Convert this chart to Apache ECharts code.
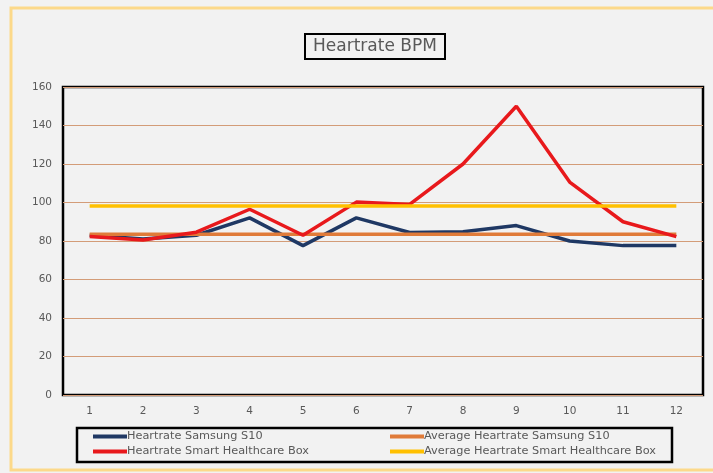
<!DOCTYPE html>
<html><head><meta charset="utf-8">
<script src="https://cdn.jsdelivr.net/npm/echarts@6/dist/echarts.min.js"></script>
<style>html,body{margin:0;padding:0;background:#fff}#c{width:713px;height:473px}</style>
</head><body><div id="c"></div>
<script>
const categories = ['1','2','3','4','5','6','7','8','9','10','11','12'];
const samsung = [83, 81, 83, 92, 77.6, 92, 84.4, 84.8, 88, 80, 77.6, 77.6];
const box = [82.3, 80.5, 84.6, 96.5, 83, 100.2, 99, 120, 150, 110.6, 90, 82.3];
const avgSamsung = [83.5, 83.5, 83.5, 83.5, 83.5, 83.5, 83.5, 83.5, 83.5, 83.5, 83.5, 83.5];
const avgBox = [98.2, 98.2, 98.2, 98.2, 98.2, 98.2, 98.2, 98.2, 98.2, 98.2, 98.2, 98.2];
const names = ['Heartrate Samsung S10', 'Average Heartrate Samsung S10', 'Heartrate Smart Healthcare Box', 'Average Heartrate Smart Healthcare Box'];
const colors = ['#1f3864', '#e07b39', '#e8191c', '#ffc000'];
const FONT = 'DejaVu Sans';

const chart = echarts.init(document.getElementById('c'));
const mkLegend = (name, left, top) => ({
  data: [name], left: left, top: top, itemWidth: 34, itemHeight: 4, itemGap: 0, icon: 'rect',
  textStyle: { fontFamily: FONT, fontSize: 11.3, color: '#595959', padding: [0,0,0,-5] }, padding: 0
});
const seriesData = [samsung, avgSamsung, box, avgBox];
chart.setOption({
  backgroundColor: '#f2f2f2',
  animation: false,
  graphic: [
    { type: 'rect', shape: { x: 11, y: 8, width: 712, height: 462 }, style: { fill: 'none', stroke: '#fcd98a', lineWidth: 3 }, z: 100 },
    { type: 'rect', shape: { x: 77, y: 428, width: 595, height: 34 }, style: { fill: 'none', stroke: '#000', lineWidth: 2.5 } }
  ],
  title: {
    text: 'Heartrate BPM', left: 305, top: 34,
    borderColor: '#000', borderWidth: 2, padding: [4, 8, 4, 8],
    textStyle: { fontFamily: FONT, fontSize: 17, fontWeight: 'normal', color: '#595959' }
  },
  legend: [
    mkLegend(names[0], 93, 431),
    mkLegend(names[1], 390, 431),
    mkLegend(names[2], 93, 446),
    mkLegend(names[3], 390, 446)
  ],
  grid: { left: 63, top: 87, right: 10, bottom: 78, show: true, borderColor: '#000', borderWidth: 2.5, backgroundColor: 'transparent' },
  xAxis: {
    type: 'category', data: categories, boundaryGap: true,
    axisLine: { show: false }, axisTick: { show: false },
    axisLabel: { fontFamily: FONT, fontSize: 10.5, color: '#595959', margin: 11 }
  },
  yAxis: {
    type: 'value', min: 0, max: 160, interval: 20,
    axisLine: { show: false }, axisTick: { show: false },
    splitLine: { lineStyle: { color: '#d39c78', width: 1 } },
    axisLabel: { fontFamily: FONT, fontSize: 10.5, color: '#595959', margin: 11 }
  },
  series: seriesData.map((d, i) => ({
    name: names[i], type: 'line', data: d, symbol: 'none',
    lineStyle: { color: colors[i], width: 3.5 }, itemStyle: { color: colors[i] }
  }))
});
</script></body></html>
